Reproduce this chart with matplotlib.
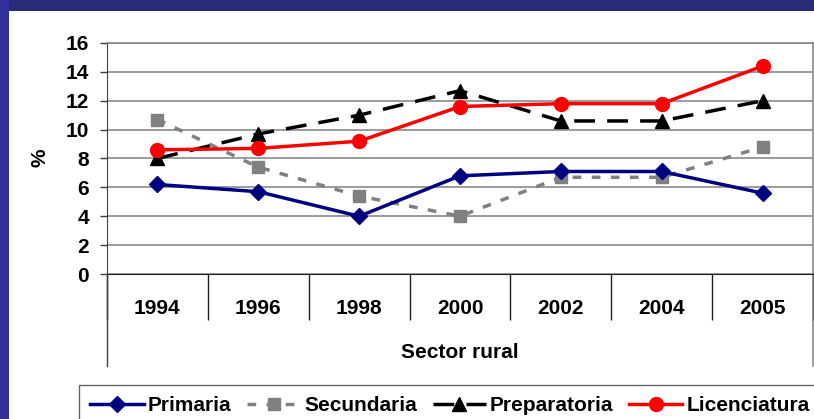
import numpy as np
import matplotlib
matplotlib.use('Agg')
from matplotlib import pyplot as plt
from matplotlib.patches import Rectangle

years = ["1994", "1996", "1998", "2000", "2002", "2004", "2005"]
primaria = [6.2, 5.7, 4.0, 6.8, 7.1, 7.1, 5.6]
secundaria = [10.7, 7.4, 5.4, 4.0, 6.7, 6.7, 8.8]
preparatoria = [8.0, 9.7, 11.0, 12.7, 10.6, 10.6, 12.0]
licenciatura = [8.6, 8.7, 9.2, 11.6, 11.8, 11.8, 14.4]
y_ticks = [0, 2, 4, 6, 8, 10, 12, 14, 16]

plt.rcParams['font.family'] = ['Liberation Sans', 'DejaVu Sans']
plt.rcParams['font.weight'] = 'bold'

fig = plt.figure(figsize=(8.14, 4.19), dpi=100)
fig.patch.set_facecolor('white')
W, H = 814, 419

# dark blue slide frame (top bar and left bar)
fig.patches.append(Rectangle((0, 1 - 11 / H), 1, 11 / H, transform=fig.transFigure,
                             facecolor='#2a2a78', edgecolor='none', zorder=0))
fig.patches.append(Rectangle((0, 0), 9 / W, 1, transform=fig.transFigure,
                             facecolor='#30309a', edgecolor='none', zorder=0))

ax = fig.add_axes([107 / W, 1 - 274 / H, 706 / W, 231 / H])
x = np.arange(len(years))

ax.plot(x, primaria, color='#000080', lw=2.5, marker='D', ms=8.5, label='Primaria', zorder=4)
ax.plot(x, secundaria, color='#808080', lw=2.5, ls=(0, (2.5, 3)), marker='s', ms=8.5,
        label='Secundaria', zorder=3)
ax.plot(x, preparatoria, color='black', lw=2.5, ls=(0, (6, 3.5)), marker='^', ms=10,
        label='Preparatoria', zorder=3)
ax.plot(x, licenciatura, color='#ff0000', lw=2.5, marker='o', ms=10, label='Licenciatura', zorder=5)

ax.set_xlim(-0.5, len(years) - 0.5)
ax.set_ylim(0, 16)
ax.set_yticks(y_ticks)
ax.set_yticklabels([str(v) for v in y_ticks])
ax.yaxis.grid(True, color='#808080', lw=1.1)
ax.set_axisbelow(True)

ax.set_xticks(x)
ax.set_xticklabels(years)
ax.set_xticks(np.arange(len(years) + 1) - 0.5, minor=True)
ax.tick_params(axis='x', which='major', length=0, pad=18, labelsize=15)
ax.tick_params(axis='x', which='minor', length=33, width=1.0, color='#202020', direction='out')
ax.tick_params(axis='y', length=5, width=1.0, color='#404040', pad=8, labelsize=15)

for s in ['top', 'right']:
    ax.spines[s].set_color('#808080')
    ax.spines[s].set_linewidth(1.1)
ax.spines['left'].set_color('#404040')
ax.spines['bottom'].set_color('#202020')

# extended table borders under the axis
ax.axvline(-0.5, ymin=-0.398, ymax=0, color='#404040', lw=1.0, clip_on=False)
ax.axvline(len(years) - 0.5, ymin=-0.398, ymax=0, color='#808080', lw=1.1, clip_on=False)

ax.text(0.5, -0.338, 'Sector rural', transform=ax.transAxes, ha='center', va='center',
        fontsize=15, fontweight='bold')
fig.text(40 / W, 1 - 158 / H, '%', rotation=90, ha='center', va='center',
         fontsize=15, fontweight='bold')

leg = fig.legend(loc='upper left', bbox_to_anchor=(79 / W, 1 - 385 / H), ncol=4,
                 frameon=True, fancybox=False, fontsize=15, handlelength=2.55,
                 handletextpad=0.2, columnspacing=0.75, borderpad=0.55, borderaxespad=0)
leg.get_frame().set_edgecolor('#404040')
leg.get_frame().set_linewidth(1.0)

fig.savefig('out.png', dpi=100, facecolor=fig.get_facecolor())
